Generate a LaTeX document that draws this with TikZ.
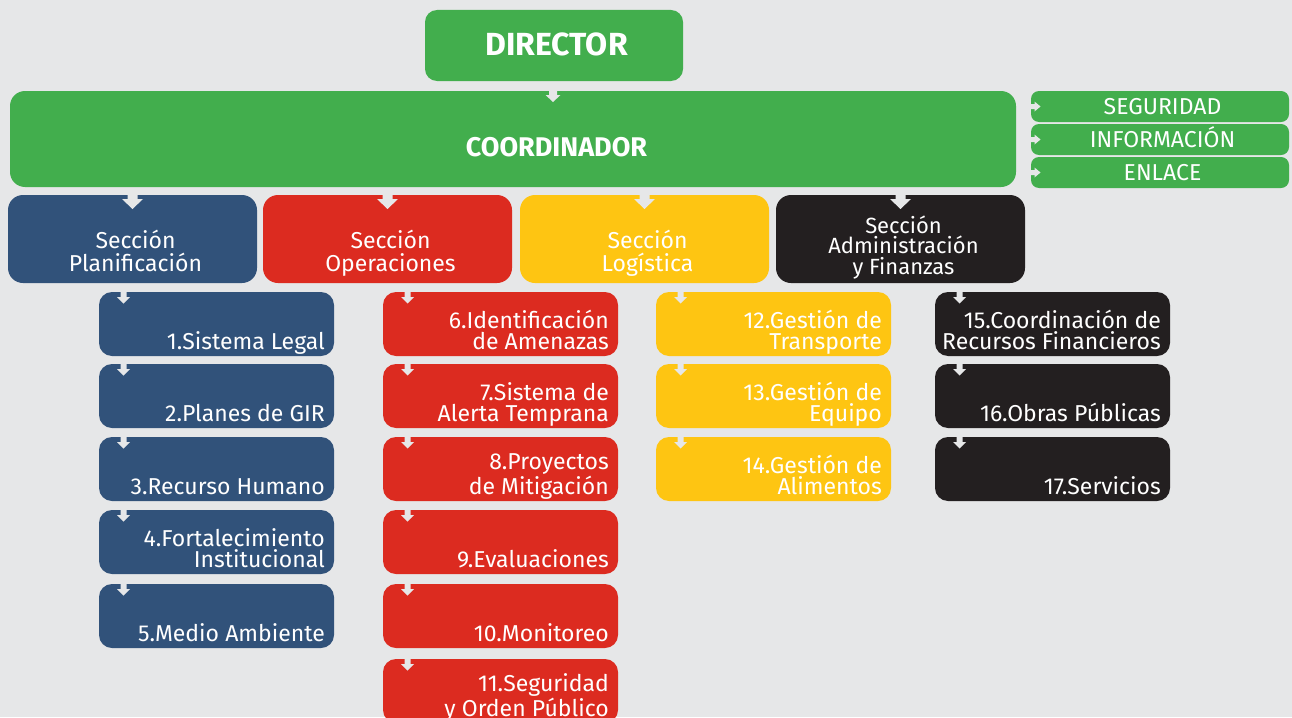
\documentclass[tikz,border=0pt]{standalone}
\usepackage{fontspec}
\setmainfont{Fira Sans}
\definecolor{bgc}{HTML}{E6E7E8}
\definecolor{cgreen}{HTML}{42AE4D}
\definecolor{cblue}{HTML}{31527A}
\definecolor{cred}{HTML}{DC2B20}
\definecolor{cyel}{HTML}{FEC512}
\definecolor{cblk}{HTML}{231F20}
\tikzset{
 box/.style={rectangle, inner sep=0pt, outer sep=0pt, anchor=north west, draw=none},
 sub/.style={box, rounded corners=13pt, minimum width=235pt, minimum height=64pt},
 sec/.style={box, rounded corners=15pt, minimum width=249pt, minimum height=88pt},
 side/.style={box, rounded corners=8pt, fill=cgreen, minimum width=258pt, minimum height=31pt},
 sidetxt/.style={text=white, inner sep=0pt, text height=16pt, text depth=0pt, font=\fontsize{23}{23}\selectfont},
 subtxt/.style={text=white, align=right, inner sep=0pt, anchor=south east, text depth=6pt,
   font=\fontsize{23}{20.5}\selectfont},
 sectxt/.style={text=white, align=center, inner sep=0pt, anchor=south, text depth=6pt,
   font=\fontsize{23}{23}\selectfont},
}
% #1 node, #2 x offset from north west, #3 stem half width, #4 stem length, #5 head half width, #6 head length
\newcommand\dnarrow[6]{\fill[bgc] (#1.north west) ++(#2-#3,-0.5) -- ++(0,#4+0.5) -- ++(#3-#5,0) -- ++(#5,#6) -- ++(#5,-#6) -- ++(#3-#5,0) -- ++(0,-#4-0.5) -- cycle;}
\newcommand\rtarrow[1]{\fill[bgc] (#1.west) ++(-0.5,-2.5) -- ++(4,0) -- ++(0,-2.5) -- ++(6,5) -- ++(-6,5) -- ++(0,-2.5) -- ++(-4,0) -- cycle;}
\newcommand\subbox[5]{\node[sub, fill=#2] (#1) at (#3,#4) {};
  \node[subtxt] (#1t) at ([shift={(-9,-0.5)}]#1.south east) {#5};
  \dnarrow{#1}{24.5}{3}{5}{6.5}{6.5}}
\newcommand\sidebox[3]{\node[side] (#1) at (1031,#2) {};
  \node[sidetxt] (#1t) at ([shift={(2.5,0)}]#1.center) {#3};
  \rtarrow{#1}}
\begin{document}
\begin{tikzpicture}[x=1pt,y=-1pt]
\useasboundingbox (0,0) rectangle (1292,717);
\clip (0,0) rectangle (1292,717);
\fill[bgc] (0,0) rectangle (1292,717);

% top
\node[box, rounded corners=12pt, fill=cgreen, minimum width=258pt, minimum height=71pt] (dir) at (425,10) {};
\node[text=white, inner sep=0pt, text height=22pt, text depth=0pt, font=\bfseries\fontsize{32}{32}\selectfont] (dirt) at ([shift={(2.5,-1)}]dir.center) {DIRECTOR};
\node[box, rounded corners=15pt, fill=cgreen, minimum width=1006pt, minimum height=96pt] (coord) at (10,91) {};
\node[text=white, inner sep=0pt, anchor=base, font=\bfseries\fontsize{27}{27}\selectfont] (coordt) at (556.5,156.5) {COORDINADOR};
\dnarrow{coord}{543}{4}{4}{7.5}{7}

% side boxes
\sidebox{seg}{91}{SEGURIDAD}
\sidebox{inf}{124}{INFORMACIÓN}
\sidebox{enl}{157}{ENLACE}

% sections
\node[sec, fill=cblue] (splan) at (8,195) {};
\node[sectxt] (splant) at ([shift={(3,-5)}]splan.south) {Sección\\Planificación};
\node[sec, fill=cred] (soper) at (263,195) {};
\node[sectxt] (sopert) at ([shift={(3,-5)}]soper.south) {Sección\\Operaciones};
\node[sec, fill=cyel] (slog) at (520,195) {};
\node[sectxt] (slogt) at ([shift={(3,-5)}]slog.south) {Sección\\Logística};
\node[sec, fill=cblk] (sadm) at (776,195) {};
\node[sectxt, font=\fontsize{22}{20.5}\selectfont] (sadmt) at ([shift={(3,-2.5)}]sadm.south) {Sección\\Administración\\y Finanzas};
\foreach \s in {splan,soper,slog,sadm}{\dnarrow{\s}{124.5}{5}{4}{10.5}{10}}

% planificación
\subbox{p1}{cblue}{99}{292}{1.Sistema Legal}
\subbox{p2}{cblue}{99}{364}{2.Planes de GIR}
\subbox{p3}{cblue}{99}{437}{3.Recurso Humano}
\subbox{p4}{cblue}{99}{510}{4.Fortalecimiento\\Institucional}
\subbox{p5}{cblue}{99}{584}{5.Medio Ambiente}
% operaciones
\subbox{o6}{cred}{383}{292}{6.Identificación\\de Amenazas}
\subbox{o7}{cred}{383}{364}{7.Sistema de\\Alerta Temprana}
\subbox{o8}{cred}{383}{437}{8.Proyectos\\de Mitigación}
\subbox{o9}{cred}{383}{510}{9.Evaluaciones}
\subbox{o10}{cred}{383}{584}{10.Monitoreo}
\subbox{o11}{cred}{383}{659}{11.Seguridad\\y Orden Público}
% logística
\subbox{l12}{cyel}{656}{292}{12.Gestión de\\Transporte}
\subbox{l13}{cyel}{656}{364}{13.Gestión de\\Equipo}
\subbox{l14}{cyel}{656}{437}{14.Gestión de\\Alimentos}
% administración
\subbox{a15}{cblk}{935}{292}{15.Coordinación de\\Recursos Financieros}
\subbox{a16}{cblk}{935}{364}{16.Obras Públicas}
\subbox{a17}{cblk}{935}{437}{17.Servicios}
\end{tikzpicture}
\end{document}
